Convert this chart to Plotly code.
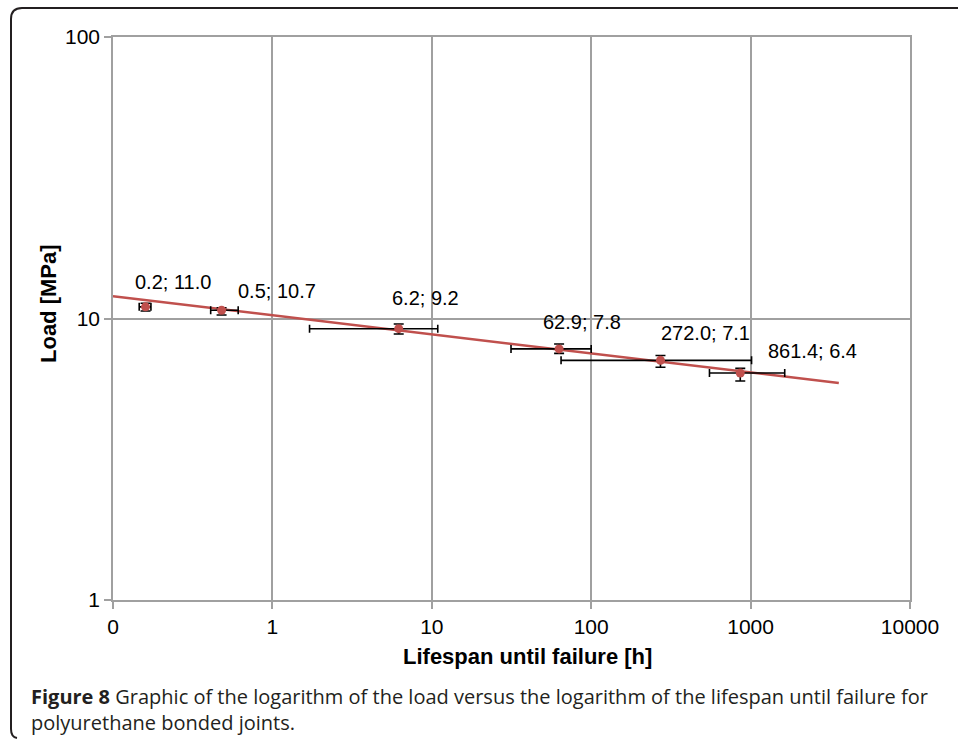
import numpy as np
import plotly.graph_objects as go

# ---- data ----
lifespan_h = [0.16, 0.48, 6.2, 62.9, 272.0, 861.4]
load_mpa = [11.0, 10.7, 9.2, 7.8, 7.1, 6.4]
lifespan_low = [0.146, 0.41, 1.71, 31.4, 64.7, 552.0]
lifespan_high = [0.173, 0.61, 10.9, 100.0, 1014.0, 1637.0]
load_low = [10.63, 10.29, 8.81, 7.52, 6.71, 6.00]
load_high = [11.33, 10.92, 9.56, 8.12, 7.39, 6.65]
point_labels = ["0.2; 11.0", "0.5; 10.7", "6.2; 9.2", "62.9; 7.8", "272.0; 7.1", "861.4; 6.4"]
trend_x = [0.1, 3575.0]
trend_y = [12.0, 5.9]
x_tickvals = [0.1, 1, 10, 100, 1000, 10000]
x_ticktext = ["0", "1", "10", "100", "1000", "10000"]
y_tickvals = [1, 10, 100]
y_ticktext = ["1", "10", "100"]

# label offsets in pixels (dx right, dy up)
label_offsets = [(27, 25), (55, 19), (27, 31), (23, 27), (45, 27), (72, 22)]

W, H = 958, 739
L, R, T, B = 113, 48, 37, 139
PW, PH = W - L - R, H - T - B


def px(xp):
    return (xp - L) / PW


def py(yp):
    return (H - B - yp) / PH


RED = "#C0504D"
GRID = "#a0a0a0"
FONT = "Liberation Sans, Arial, sans-serif"

fig = go.Figure()

fig.add_trace(go.Scatter(
    x=trend_x, y=trend_y, mode="lines",
    line=dict(color=RED, width=2.5), hoverinfo="skip"))

xe_plus = [h - v for h, v in zip(lifespan_high, lifespan_h)]
xe_minus = [v - l for l, v in zip(lifespan_low, lifespan_h)]
ye_plus = [h - v for h, v in zip(load_high, load_mpa)]
ye_minus = [v - l for l, v in zip(load_low, load_mpa)]

fig.add_trace(go.Scatter(
    x=lifespan_h, y=load_mpa, mode="markers",
    marker=dict(color=RED, size=9),
    error_x=dict(type="data", symmetric=False, array=xe_plus, arrayminus=xe_minus,
                 color="black", thickness=1.6, width=4),
    error_y=dict(type="data", symmetric=False, array=ye_plus, arrayminus=ye_minus,
                 color="black", thickness=1.6, width=5)))

annotations = []
for xv, yv, txt, (dx, dy) in zip(lifespan_h, load_mpa, point_labels, label_offsets):
    annotations.append(dict(
        x=np.log10(xv), y=np.log10(yv), xref="x", yref="y", text=txt,
        showarrow=False, xshift=dx, yshift=dy, xanchor="center", yanchor="middle",
        font=dict(family=FONT, size=20, color="black")))

annotations.append(dict(
    x=px(527), y=py(656), xref="paper", yref="paper",
    text="<b>Lifespan until failure [h]</b>", showarrow=False,
    xanchor="center", yanchor="middle",
    font=dict(family=FONT, size=22, color="black")))
annotations.append(dict(
    x=px(48), y=py(304), xref="paper", yref="paper",
    text="<b>Load [MPa]</b>", showarrow=False, textangle=-90,
    xanchor="center", yanchor="middle",
    font=dict(family=FONT, size=22, color="black")))

CAP_FONT = "Open Sans, Noto Sans, sans-serif"
annotations.append(dict(
    x=px(29), y=py(709), xref="paper", yref="paper",
    text=("<b>Figure 8</b> Graphic of the logarithm of the load versus the logarithm "
          "of the lifespan until failure for<br>polyurethane bonded joints."),
    showarrow=False, xanchor="left", yanchor="middle", align="left",
    font=dict(family=CAP_FONT, size=20, color="#231f20")))

# frame around the figure (left + top, rounded corners)
path = (f"M {px(975)},{py(8)} L {px(22)},{py(8)} "
        f"Q {px(11)},{py(8)} {px(11)},{py(19)} "
        f"L {px(11)},{py(729)} Q {px(11)},{py(737)} {px(17)},{py(738)}")
shapes = [dict(type="path", path=path, xref="paper", yref="paper",
               line=dict(color="#231f20", width=2), layer="above")]

axis_common = dict(
    type="log", showgrid=True, gridcolor=GRID, gridwidth=1.5,
    showline=True, linecolor=GRID, linewidth=1.5, mirror=True,
    ticks="outside", ticklen=7, tickcolor=GRID, tickwidth=1.5,
    zeroline=False, tickfont=dict(family=FONT, size=21, color="black"))

fig.update_layout(
    width=W, height=H, autosize=False,
    margin=dict(l=L, r=R, t=T, b=B, pad=0),
    paper_bgcolor="white", plot_bgcolor="white",
    showlegend=False,
    xaxis=dict(range=[-1, 4], tickmode="array", tickvals=x_tickvals, ticktext=x_ticktext,
               **axis_common),
    yaxis=dict(range=[0, 2], tickmode="array", tickvals=y_tickvals, ticktext=y_ticktext,
               **axis_common),
    annotations=annotations, shapes=shapes)

fig.write_html("out.html")
